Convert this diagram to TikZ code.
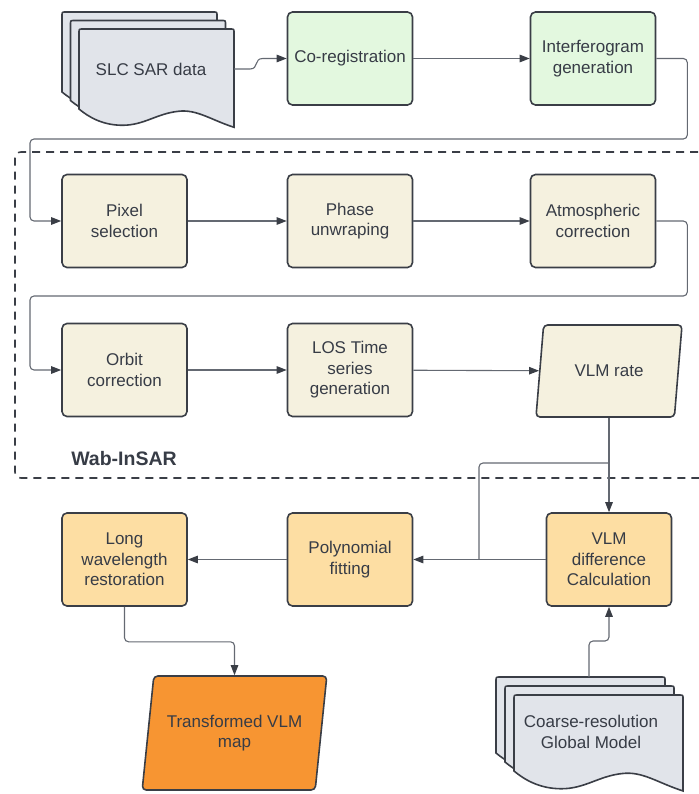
\documentclass[tikz,border=0pt]{standalone}
\usepackage{fontspec}
\setmainfont{Liberation Sans}
\usetikzlibrary{
  arrows.meta,calc,positioning,shapes.geometric
}
\definecolor{EdgeGray}{RGB}{58,62,70}
\definecolor{TextGray}{RGB}{55,60,70}
\definecolor{LineGray}{RGB}{100,105,114}
\definecolor{MintGreen}{RGB}{227,248,223}
\definecolor{Cream}{RGB}{245,241,223}
\definecolor{Peach}{RGB}{253,222,163}
\definecolor{DeepOrange}{RGB}{247,149,50}
\definecolor{SheetGray}{RGB}{225,228,234}

% one sheet of a document stack: x, y, width, height of the left edge
\newcommand{\docsheet}[4]{%
  \filldraw[sheet] (#1,#2+#4) -- (#1,#2+4) .. controls (#1,#2) .. (#1+4,#2)
    -- (#1+#3-4,#2) .. controls (#1+#3,#2) .. (#1+#3,#2+4)
    -- (#1+#3,#2+#4+0.118*#3)
    .. controls (#1+0.85*#3,#2+#4+0.07*#3) and (#1+0.76*#3,#2+#4) .. (#1+0.64*#3,#2+#4+0.015*#3)
    .. controls (#1+0.5*#3,#2+#4+0.03*#3) and (#1+0.42*#3,#2+#4+0.105*#3) .. (#1+0.28*#3,#2+#4+0.105*#3)
    .. controls (#1+0.15*#3,#2+#4+0.105*#3) and (#1+0.06*#3,#2+#4+0.05*#3) .. (#1,#2+#4) -- cycle;}

\begin{document}
\begin{tikzpicture}[x=1pt,y=-1pt,
    every node/.style={text=TextGray,font=\fontsize{17}{20.5}\selectfont,align=center},
    box/.style={draw=EdgeGray,line width=1.6pt,rounded corners=5pt,
      minimum width=125pt,minimum height=93pt,inner sep=2pt},
    green/.style={box,fill=MintGreen},
    cream/.style={box,fill=Cream},
    peach/.style={box,fill=Peach},
    slanted/.style={draw=EdgeGray,line width=1.6pt,rounded corners=4pt,
      trapezium,trapezium stretches=true,inner sep=2pt},
    sheet/.style={draw=EdgeGray,line width=1.6pt,fill=SheetGray},
    flow/.style={draw=LineGray,line width=1.1pt,-{Triangle[length=10pt,width=7.5pt,color=EdgeGray]}},
    link/.style={draw=LineGray,line width=1.1pt}
  ]
  \useasboundingbox (0,0) rectangle (698,794);

  % Wab-InSAR region
  \draw[EdgeGray,line width=1.6pt,dash pattern=on 8pt off 6pt,rounded corners=6pt]
    (712,152) -- (15,152) -- (15,478) -- (712,478);
  \node[font=\fontsize{19.5}{22}\selectfont\bfseries] (wab) at (124,459) {Wab-InSAR};

  % stacks of documents
  \foreach \d in {0,8.5,17}
    \docsheet{62+\d}{12+\d}{155}{80};
  \node (slc) at (151,69) {SLC SAR data};
  \coordinate (slcout) at (234,69);
  \foreach \d in {0,9,18}
    \docsheet{496+\d}{677+\d}{169}{76};
  \node (coarse) at (591,732) {Coarse-resolution\\Global Model};
  \coordinate (coarsetop) at (589,677);

  % boxes
  \node[green] (coreg) at (350,58.5) {Co-registration};
  \node[green] (interf) at (593,58.5) {Interferogram\\generation};
  \node[cream] (pixel) at (124.5,221) {Pixel\\selection};
  \node[cream] (phase) at (350,221) {Phase\\unwraping};
  \node[cream] (atmos) at (593,221) {Atmospheric\\correction};
  \node[cream] (orbit) at (124.5,370) {Orbit\\correction};
  \node[cream] (los) at (350,370) {LOS Time\\series\\generation};
  \node[slanted,fill=Cream,trapezium left angle=75,trapezium right angle=105,
    minimum width=147pt,minimum height=92pt] (vlmrate) at (609,371) {VLM rate};
  \node[peach] (vlmdiff) at (609,559.5) {VLM\\difference\\Calculation};
  \node[peach] (poly) at (350,559.5) {Polynomial\\fitting};
  \node[peach] (long) at (124.5,559.5) {Long\\wavelength\\restoration};
  \node[slanted,fill=DeepOrange,trapezium left angle=76,trapezium right angle=104,
    minimum width=185pt,minimum height=114pt] (vlmmap) at (234.5,733) {Transformed VLM\\map};

  % connectors
  \draw[flow] (slcout) -- ++(16,0) .. controls +(9,0) and +(-9,0) .. ([xshift=-24pt]coreg.west) -- (coreg.west);
  \draw[flow] (coreg) -- (interf);
  \draw[flow,rounded corners=4pt] (interf.east) -- ++(31,0) |- (30,139) |- (pixel.west);
  \draw[flow] (pixel) -- (phase);
  \draw[flow] (phase) -- (atmos);
  \draw[flow,rounded corners=4pt] (atmos.east) -- ++(31,0) |- (30,296) |- (orbit.west);
  \draw[flow] (orbit) -- (los);
  \draw[flow] (los) -- (vlmrate);
  \coordinate (split) at (609,463);
  \draw[flow] (vlmrate.south -| vlmdiff.north) -- (vlmdiff.north);
  \draw[link,rounded corners=4pt] (split) -| (479,559.5);
  \draw[flow] (vlmdiff) -- (poly);
  \draw[flow] (poly) -- (long);
  \draw[flow,rounded corners=4pt] (long.south) -- ++(0,35) -| (vlmmap.north);
  \draw[flow,rounded corners=4pt] (coarsetop) -- (589,641) -| (vlmdiff.south);
\end{tikzpicture}
\end{document}
